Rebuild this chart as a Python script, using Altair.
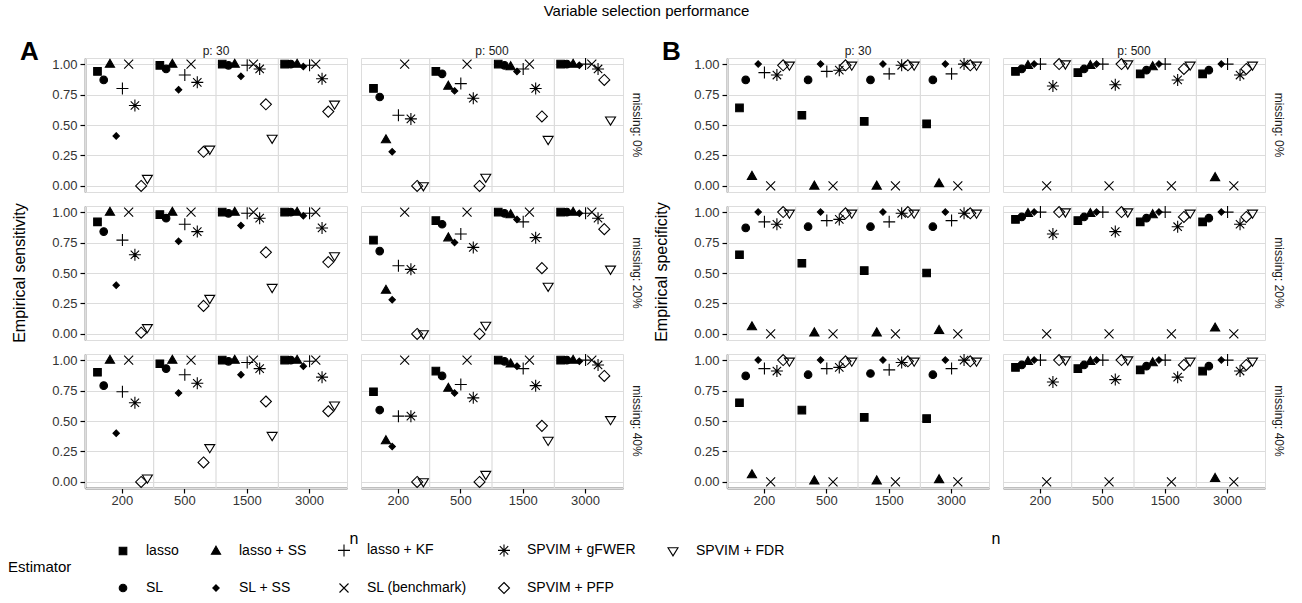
import altair as alt
import pandas as pd

# ---------------- data ----------------
estimators = ["lasso", "SL", "lasso + SS", "SL + SS", "lasso + KF",
              "SL (benchmark)", "SPVIM + gFWER", "SPVIM + PFP", "SPVIM + FDR"]
legend_order = ["lasso", "lasso + SS", "lasso + KF", "SPVIM + gFWER", "SPVIM + FDR",
                "SL", "SL + SS", "SL (benchmark)", "SPVIM + PFP"]
n_levels = ["200", "500", "1500", "3000"]
p_levels = ["p: 30", "p: 500"]
missing_levels = ["missing: 0%", "missing: 20%", "missing: 40%"]

# rows = n (200, 500, 1500, 3000); columns = estimators (order above)
sens_p30_m0 = [
    [0.94, 0.87, 1.00, 0.41, 0.80, 1.00, 0.66, 0.00, 0.06],
    [0.99, 0.96, 1.00, 0.79, 0.91, 1.00, 0.85, 0.28, 0.30],
    [1.00, 0.99, 1.00, 0.90, 0.99, 1.00, 0.96, 0.67, 0.39],
    [1.00, 1.00, 1.00, 0.98, 0.99, 1.00, 0.88, 0.61, 0.67],
]
sens_p500_m0 = [
    [0.80, 0.73, 0.38, 0.28, 0.58, 1.00, 0.55, 0.00, 0.00],
    [0.94, 0.92, 0.82, 0.78, 0.84, 1.00, 0.72, 0.00, 0.07],
    [1.00, 0.99, 0.98, 0.94, 0.96, 1.00, 0.80, 0.57, 0.38],
    [1.00, 1.00, 1.00, 0.99, 1.00, 1.00, 0.96, 0.87, 0.54],
]
sens_p30_m20 = [
    [0.92, 0.84, 1.00, 0.40, 0.77, 1.00, 0.65, 0.01, 0.05],
    [0.98, 0.95, 1.00, 0.76, 0.90, 1.00, 0.84, 0.23, 0.29],
    [1.00, 0.99, 1.00, 0.89, 0.99, 1.00, 0.95, 0.67, 0.38],
    [1.00, 1.00, 1.00, 0.97, 0.99, 1.00, 0.87, 0.59, 0.64],
]
sens_p500_m20 = [
    [0.77, 0.68, 0.36, 0.28, 0.56, 1.00, 0.53, 0.00, 0.00],
    [0.93, 0.90, 0.79, 0.75, 0.82, 1.00, 0.71, 0.00, 0.07],
    [1.00, 0.99, 0.98, 0.94, 0.92, 1.00, 0.79, 0.54, 0.39],
    [1.00, 1.00, 1.00, 0.99, 0.99, 1.00, 0.95, 0.86, 0.53],
]
sens_p30_m40 = [
    [0.90, 0.79, 1.00, 0.40, 0.74, 1.00, 0.65, 0.00, 0.03],
    [0.97, 0.93, 1.00, 0.73, 0.88, 1.00, 0.81, 0.16, 0.28],
    [1.00, 0.99, 1.00, 0.88, 0.98, 1.00, 0.93, 0.66, 0.38],
    [1.00, 1.00, 1.00, 0.95, 0.99, 1.00, 0.86, 0.58, 0.63],
]
sens_p500_m40 = [
    [0.74, 0.59, 0.34, 0.29, 0.54, 1.00, 0.54, 0.00, 0.00],
    [0.91, 0.87, 0.77, 0.73, 0.80, 1.00, 0.69, 0.00, 0.06],
    [1.00, 0.99, 0.97, 0.95, 0.93, 1.00, 0.79, 0.46, 0.34],
    [1.00, 1.00, 1.00, 0.99, 1.00, 1.00, 0.96, 0.87, 0.51],
]
spec_p30_m0 = [
    [0.64, 0.87, 0.08, 1.00, 0.93, 0.00, 0.91, 0.99, 0.99],
    [0.58, 0.87, 0.00, 1.00, 0.94, 0.00, 0.95, 0.99, 0.99],
    [0.53, 0.87, 0.00, 1.00, 0.92, 0.00, 0.99, 0.99, 0.99],
    [0.51, 0.87, 0.02, 1.00, 0.92, 0.00, 1.00, 0.99, 0.99],
]
spec_p500_m0 = [
    [0.94, 0.96, 0.99, 1.00, 1.00, 0.00, 0.82, 1.00, 1.00],
    [0.93, 0.96, 0.99, 1.00, 1.00, 0.00, 0.83, 1.00, 1.00],
    [0.92, 0.95, 0.98, 1.00, 1.00, 0.00, 0.87, 0.96, 0.99],
    [0.92, 0.95, 0.07, 1.00, 1.00, 0.00, 0.91, 0.96, 0.99],
]
spec_p30_m20 = [
    [0.65, 0.87, 0.06, 1.00, 0.92, 0.00, 0.90, 1.00, 0.99],
    [0.58, 0.88, 0.01, 1.00, 0.93, 0.00, 0.94, 0.99, 0.99],
    [0.52, 0.88, 0.01, 1.00, 0.92, 0.00, 0.99, 1.00, 0.99],
    [0.50, 0.88, 0.03, 1.00, 0.93, 0.00, 0.99, 0.99, 0.99],
]
spec_p500_m20 = [
    [0.94, 0.96, 0.99, 1.00, 1.00, 0.00, 0.82, 1.00, 1.00],
    [0.93, 0.96, 0.99, 1.00, 1.00, 0.00, 0.84, 1.00, 1.00],
    [0.92, 0.95, 0.98, 1.00, 1.00, 0.00, 0.88, 0.96, 0.99],
    [0.92, 0.95, 0.05, 1.00, 1.00, 0.00, 0.90, 0.96, 0.99],
]
spec_p30_m40 = [
    [0.65, 0.87, 0.06, 1.00, 0.93, 0.00, 0.91, 1.00, 0.99],
    [0.59, 0.88, 0.01, 1.00, 0.93, 0.00, 0.94, 0.99, 0.99],
    [0.53, 0.89, 0.01, 1.00, 0.92, 0.00, 0.98, 0.99, 0.99],
    [0.52, 0.88, 0.02, 1.00, 0.93, 0.00, 1.00, 0.99, 0.99],
]
spec_p500_m40 = [
    [0.94, 0.96, 0.99, 1.00, 1.00, 0.00, 0.82, 1.00, 1.00],
    [0.93, 0.96, 0.99, 1.00, 1.00, 0.00, 0.84, 1.00, 1.00],
    [0.92, 0.95, 0.98, 1.00, 1.00, 0.00, 0.86, 0.96, 0.99],
    [0.91, 0.95, 0.03, 1.00, 1.00, 0.00, 0.91, 0.96, 0.99],
]

tables = {
    "sens": {("p: 30", "missing: 0%"): sens_p30_m0, ("p: 500", "missing: 0%"): sens_p500_m0,
             ("p: 30", "missing: 20%"): sens_p30_m20, ("p: 500", "missing: 20%"): sens_p500_m20,
             ("p: 30", "missing: 40%"): sens_p30_m40, ("p: 500", "missing: 40%"): sens_p500_m40},
    "spec": {("p: 30", "missing: 0%"): spec_p30_m0, ("p: 500", "missing: 0%"): spec_p500_m0,
             ("p: 30", "missing: 20%"): spec_p30_m20, ("p: 500", "missing: 20%"): spec_p500_m20,
             ("p: 30", "missing: 40%"): spec_p30_m40, ("p: 500", "missing: 40%"): spec_p500_m40},
}

rows = []
for measure, tab in tables.items():
    for (p, m), grid in tab.items():
        for n, vals in zip(n_levels, grid):
            for e, v in zip(estimators, vals):
                rows.append({"measure": measure, "p": p, "missing": m, "n": n,
                             "estimator": e, "value": v})
df = pd.DataFrame(rows)

# ---------------- styles ----------------
shape_paths = {
    "lasso": "M-0.38,-0.38L0.38,-0.38L0.38,0.38L-0.38,0.38Z",
    "SL": "M0.38,0A0.38,0.38 0 1,1 -0.38,0A0.38,0.38 0 1,1 0.38,0Z",
    "lasso + SS": "M0,-0.48L0.46,0.32L-0.46,0.32Z",
    "SL + SS": "M0,-0.32L0.32,0L0,0.32L-0.32,0Z",
    "lasso + KF": "M-0.6,0L0.6,0M0,-0.6L0,0.6",
    "SL (benchmark)": "M-0.45,-0.45L0.45,0.45M-0.45,0.45L0.45,-0.45",
    "SPVIM + gFWER": "M-0.6,0L0.6,0M0,-0.6L0,0.6M-0.42,-0.42L0.42,0.42M-0.42,0.42L0.42,-0.42",
    "SPVIM + PFP": "M0,-0.55L0.55,0L0,0.55L-0.55,0Z",
    "SPVIM + FDR": "M-0.5,-0.32L0.5,-0.32L0,0.5Z",
}
fills = {e: ("black" if i < 4 else "transparent") for i, e in enumerate(estimators)}
GRID = "#DCDCDC"
FONT = "Liberation Sans"

legend = alt.Legend(
    title="Estimator", orient="none", legendX=-77, legendY=481,
    direction="horizontal", columns=5, titleOrient="left", titleAnchor="middle",
    titleFontSize=15, titleFontWeight="normal", titleColor="black", titlePadding=40,
    labelFontSize=14, labelColor="black", labelOffset=12, symbolSize=400,
    symbolStrokeColor="black", symbolStrokeWidth=1.1, gridAlign="each",
    columnPadding=26, rowPadding=18,
)


def panel(measure, ytitle, letter):
    xscale = alt.Scale(paddingInner=0, paddingOuter=0.1)
    xaxis = alt.Axis(labelAngle=0, grid=False, title=None, labelPadding=1)
    pts = alt.Chart().mark_point(size=400, strokeWidth=1.1, opacity=1).encode(
        x=alt.X("n:N", sort=n_levels, scale=xscale, axis=xaxis),
        xOffset=alt.XOffset("estimator:N", sort=estimators,
                            scale=alt.Scale(domain=estimators, paddingInner=0, paddingOuter=1)),
        y=alt.Y("value:Q", scale=alt.Scale(domain=[-0.05, 1.05], nice=False, zero=False),
                axis=alt.Axis(values=[0, 0.25, 0.5, 0.75, 1], format=".2f", title=None)),
        shape=alt.Shape("estimator:N",
                        scale=alt.Scale(domain=legend_order, range=[shape_paths[e] for e in legend_order]),
                        legend=legend),
        fill=alt.Fill("estimator:N",
                      scale=alt.Scale(domain=legend_order, range=[fills[e] for e in legend_order]),
                      legend=legend),
        stroke=alt.Stroke("estimator:N",
                          scale=alt.Scale(domain=legend_order, range=["black"] * len(legend_order)),
                          legend=legend),
    )
    # separators between categories (band starts)
    rules = alt.Chart().transform_filter(
        (alt.datum.estimator == estimators[0]) & (alt.datum.n != n_levels[0])
    ).mark_rule(color=GRID, strokeWidth=1.2).encode(
        x=alt.X("n:N", sort=n_levels, scale=xscale, axis=xaxis, bandPosition=0),
    )
    layered = alt.layer(rules, pts, data=df).transform_filter(
        alt.datum.measure == measure
    ).properties(width=262, height=134)
    return layered.facet(
        column=alt.Column("p:N", sort=p_levels,
                          header=alt.Header(title="n", titleOrient="bottom", titleFontSize=16,
                                            titleFontWeight="normal", titleColor="black",
                                            titleFont=FONT, titlePadding=14,
                                            labelOrient="top", labelFontSize=12, labelPadding=0,
                                            labelColor="#1a1a1a", labelFont=FONT)),
        row=alt.Row("missing:N", sort=missing_levels,
                    header=alt.Header(title=ytitle, titleOrient="left", titleFontSize=16,
                                      titleFontWeight="normal", titleColor="black",
                                      titleFont=FONT, titlePadding=13,
                                      labelAngle=90, labelOrient="right",
                                      labelFontSize=12, labelPadding=7,
                                      labelColor="#1a1a1a", labelFont=FONT)),
        spacing=14,
        bounds="flush",
    ).properties(title=alt.TitleParams(letter, anchor="start", frame="bounds", fontSize=26,
                                       fontWeight="bold", offset=-20, dx=8, font=FONT))


A = panel("sens", "Empirical sensitivity", "A")
B = panel("spec", "Empirical specificity", "B")

chart = alt.hconcat(A, B, spacing=10).properties(
    title=alt.TitleParams("Variable selection performance", fontSize=15, fontWeight="normal",
                          anchor="middle", offset=20, font=FONT, color="black"),
    padding={"left": 8, "top": 4, "right": 4, "bottom": 4},
).configure_view(stroke="transparent", strokeWidth=0).configure(font=FONT).configure_axis(
    domainColor="black", domainWidth=1.4, tickColor="black", tickSize=5, tickWidth=1.2,
    labelFontSize=13, labelColor="#333333", labelPadding=3, labelFont=FONT,
    titleFontSize=16, titleFontWeight="normal", titleColor="black", titleFont=FONT,
    gridColor=GRID, gridWidth=1.2,
)

chart.save("out.html", embed_options={"renderer": "svg", "actions": False})
